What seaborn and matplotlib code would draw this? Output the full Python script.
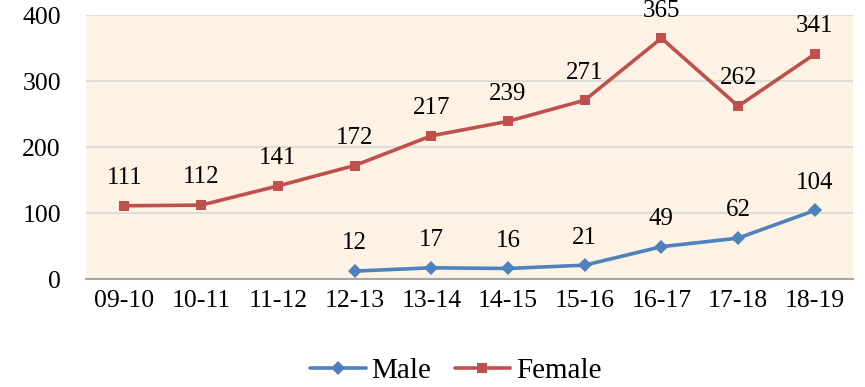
import numpy as np
import pandas as pd
import seaborn as sns
import matplotlib.pyplot as plt

# Data
years = ["09-10", "10-11", "11-12", "12-13", "13-14", "14-15", "15-16", "16-17", "17-18", "18-19"]
male = [np.nan, np.nan, np.nan, 12, 17, 16, 21, 49, 62, 104]
female = [111, 112, 141, 172, 217, 239, 271, 365, 262, 341]

df = pd.DataFrame({"Year": years * 2,
                   "Count": male + female,
                   "Sex": ["Male"] * len(years) + ["Female"] * len(years)})

sns.set_style("white")
plt.rcParams["font.family"] = ["Liberation Serif", "DejaVu Serif"]
plt.rcParams["text.color"] = "black"
plt.rcParams["xtick.color"] = "black"
plt.rcParams["ytick.color"] = "black"

colors = {"Male": "#4F81BD", "Female": "#C0504D"}

fig = plt.figure(figsize=(8.65, 3.87), dpi=100)
ax = fig.add_axes([0.0994, 0.279, 0.887, 0.682])
ax.set_facecolor("#FDF2E4")

sns.lineplot(data=df, x="Year", y="Count", hue="Sex", style="Sex",
             palette=colors, markers={"Male": "D", "Female": "s"}, dashes=False,
             markersize=7, linewidth=2.6, markeredgewidth=0, ax=ax, legend=False)

# data labels
x_pos = np.arange(len(years))
for i in range(len(years)):
    if not np.isnan(male[i]):
        ax.annotate(str(int(male[i])), (x_pos[i], male[i]), xytext=(0, 12),
                    textcoords="offset points", ha="center", va="bottom", fontsize=18)
    ax.annotate(str(female[i]), (x_pos[i], female[i]), xytext=(0, 12),
                textcoords="offset points", ha="center", va="bottom", fontsize=18)

ax.set_xlim(-0.5, len(years) - 0.5)
ax.set_ylim(0, 400)
ax.set_yticks([0, 100, 200, 300, 400])
ax.grid(axis="y", color="#D9D9D9", linewidth=1.2)
ax.set_axisbelow(True)
for s in ["left", "right", "top"]:
    ax.spines[s].set_visible(False)
ax.spines["bottom"].set_color("#A6A6A6")
ax.spines["bottom"].set_linewidth(1.5)
ax.tick_params(axis="both", length=0, labelsize=18.5, pad=8)
ax.tick_params(axis="y", pad=18)
ax.set_xlabel("")
ax.set_ylabel("")

# legend
handles = [plt.Line2D([], [], color=colors["Male"], marker="D", markersize=7, linewidth=2.6, markeredgewidth=0),
           plt.Line2D([], [], color=colors["Female"], marker="s", markersize=7, linewidth=2.6, markeredgewidth=0)]
fig.legend(handles, ["Male", "Female"], loc="lower center", bbox_to_anchor=(0.527, -0.06),
           ncol=2, frameon=False, fontsize=21, handlelength=1.9, columnspacing=0.8, handletextpad=0.2)

fig.savefig("out.png", dpi=100)
